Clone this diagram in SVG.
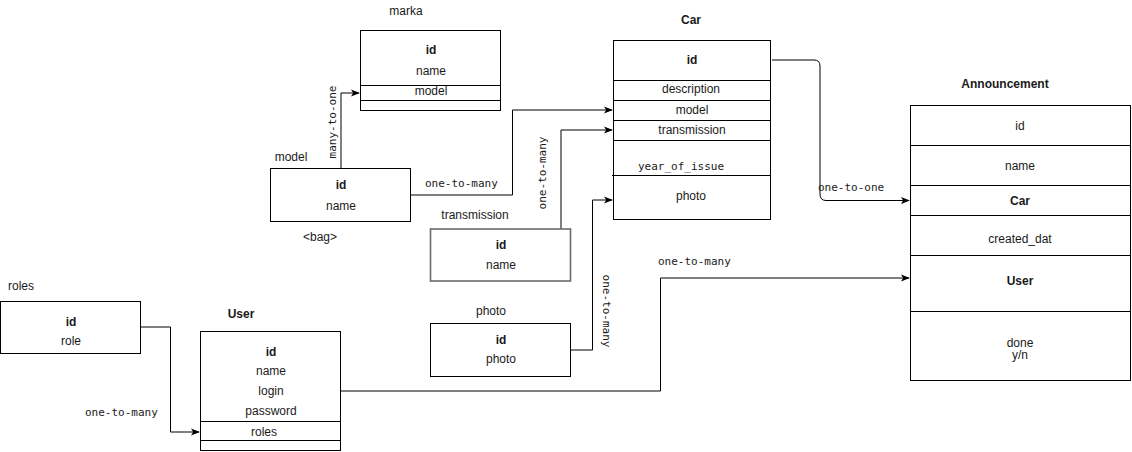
<svg xmlns="http://www.w3.org/2000/svg" width="1132" height="452" viewBox="0 0 1132 452">
  <style>
    .box { fill: #ffffff; stroke: #000000; stroke-width: 1; }
    .box-gray { fill: #ffffff; stroke: #6b6b6b; stroke-width: 1.6; }
    .row { stroke: #000000; stroke-width: 1; }
    .t { font-family: "Liberation Sans", Arial, sans-serif; font-size: 12px; fill: #1a1a1a; text-anchor: middle; }
    .b { font-weight: bold; }
    .lbl { font-family: "Liberation Sans", Arial, sans-serif; font-size: 12px; fill: #1a1a1a; }
    .mono { font-family: "DejaVu Sans Mono", "Liberation Mono", monospace; font-size: 11px; fill: #1a1a1a; }
    .edge { fill: none; stroke: #000000; stroke-width: 1; }
  </style>
  <defs>
    <marker id="arrow" viewBox="0 0 10 10" refX="9" refY="5" markerWidth="9" markerHeight="9" markerUnits="userSpaceOnUse" orient="auto">
      <path d="M0,1 L10,5 L0,9 L2.5,5 Z" fill="#000000"/>
    </marker>
  </defs>
  <rect width="1132" height="452" fill="#ffffff"/>

  <!-- connectors -->
  <g id="connectors">
    <!-- model -> marka -->
    <path class="edge" d="M341,168 V93 H359" marker-end="url(#arrow)"/>
    <text class="mono" transform="translate(336,122) rotate(-90)" text-anchor="middle">many-to-one</text>
    <!-- model -> Car.model -->
    <path class="edge" d="M410,195 H512.5 V110 H612" marker-end="url(#arrow)"/>
    <text class="mono" x="425" y="187">one-to-many</text>
    <!-- transmission -> Car.transmission -->
    <path class="edge" d="M561,229 V130 H612" marker-end="url(#arrow)"/>
    <text class="mono" transform="translate(546,173) rotate(-90)" text-anchor="middle">one-to-many</text>
    <!-- photo -> Car.photo -->
    <path class="edge" d="M571,350 H592.5 V200 H612" marker-end="url(#arrow)"/>
    <text class="mono" transform="translate(603,311) rotate(90)" text-anchor="middle">one-to-many</text>
    <!-- Car -> Announcement.Car -->
    <path class="edge" d="M772,60 H814 Q820,60 820,66 V194 Q820,200.5 826,200.5 H909" marker-end="url(#arrow)"/>
    <text class="mono" x="818" y="191">one-to-one</text>
    <!-- User -> Announcement.User -->
    <path class="edge" d="M341,391 H660.5 V278 H909" marker-end="url(#arrow)"/>
    <text class="mono" x="658" y="265">one-to-many</text>
    <!-- roles -> User.roles -->
    <path class="edge" d="M140,327 H170.5 V432 H199" marker-end="url(#arrow)"/>
    <text class="mono" x="85" y="416">one-to-many</text>
  </g>

  <!-- marka -->
  <g id="marka">
    <text class="t" x="406" y="15">marka</text>
    <rect class="box" x="360.5" y="30.5" width="140" height="80"/>
    <line class="row" x1="360.5" y1="85.5" x2="500.5" y2="85.5"/>
    <line class="row" x1="360.5" y1="100.5" x2="500.5" y2="100.5"/>
    <text class="t b" x="431" y="54">id</text>
    <text class="t" x="431" y="75">name</text>
    <text class="t" x="431" y="95">model</text>
  </g>

  <!-- model -->
  <g id="model">
    <text class="t" x="291" y="161">model</text>
    <rect class="box" x="270.5" y="168.5" width="140" height="53"/>
    <text class="t b" x="341" y="189">id</text>
    <text class="t" x="341" y="210">name</text>
    <text class="t" x="320" y="241">&lt;bag&gt;</text>
  </g>

  <!-- Car -->
  <g id="car">
    <text class="t b" x="691" y="24">Car</text>
    <rect class="box" x="613.5" y="40.5" width="157" height="179"/>
    <line class="row" x1="613.5" y1="80.5" x2="770.5" y2="80.5"/>
    <line class="row" x1="613.5" y1="100.5" x2="770.5" y2="100.5"/>
    <line class="row" x1="613.5" y1="120.5" x2="770.5" y2="120.5"/>
    <line class="row" x1="613.5" y1="140.5" x2="770.5" y2="140.5"/>
    <line class="row" x1="612" y1="175.5" x2="770.5" y2="175.5"/>
    <text class="t b" x="692" y="64">id</text>
    <text class="t" x="691" y="93">description</text>
    <text class="t" x="692" y="114">model</text>
    <text class="t" x="692" y="134">transmission</text>
    <text class="mono" x="681" y="170" text-anchor="middle">year_of_issue</text>
    <text class="t" x="691" y="200">photo</text>
  </g>

  <!-- transmission -->
  <g id="transmission">
    <text class="t" x="475" y="219">transmission</text>
    <rect class="box-gray" x="430.5" y="229" width="140" height="52"/>
    <text class="t b" x="501" y="249">id</text>
    <text class="t" x="501" y="269">name</text>
  </g>

  <!-- photo -->
  <g id="photo">
    <text class="t" x="491" y="315">photo</text>
    <rect class="box" x="430.5" y="323.5" width="140" height="53"/>
    <text class="t b" x="501" y="344">id</text>
    <text class="t" x="501" y="363">photo</text>
  </g>

  <!-- Announcement -->
  <g id="announcement">
    <text class="t b" x="1005" y="88">Announcement</text>
    <rect class="box" x="910.5" y="105.5" width="220" height="275"/>
    <line class="row" x1="910.5" y1="145.5" x2="1130.5" y2="145.5"/>
    <line class="row" x1="910.5" y1="185.5" x2="1130.5" y2="185.5"/>
    <line class="row" x1="910.5" y1="215.5" x2="1130.5" y2="215.5"/>
    <line class="row" x1="910.5" y1="255.5" x2="1130.5" y2="255.5"/>
    <line class="row" x1="910.5" y1="311.5" x2="1130.5" y2="311.5"/>
    <text class="t" x="1020" y="130">id</text>
    <text class="t" x="1020" y="170">name</text>
    <text class="t b" x="1020" y="205">Car</text>
    <text class="t" x="1020" y="243">created_dat</text>
    <text class="t b" x="1020" y="285">User</text>
    <text class="t" x="1020" y="347">done</text>
    <text class="t" x="1020" y="359">y/n</text>
  </g>

  <!-- roles -->
  <g id="roles">
    <text class="lbl" x="8" y="290">roles</text>
    <rect class="box" x="0.5" y="301.5" width="140" height="52"/>
    <text class="t b" x="71" y="326">id</text>
    <text class="t" x="71" y="345">role</text>
  </g>

  <!-- User -->
  <g id="user">
    <text class="t b" x="241" y="318">User</text>
    <rect class="box" x="200.5" y="331.5" width="140" height="119"/>
    <line class="row" x1="200.5" y1="421.5" x2="340.5" y2="421.5"/>
    <line class="row" x1="200.5" y1="440.5" x2="340.5" y2="440.5"/>
    <text class="t b" x="271" y="356">id</text>
    <text class="t" x="271" y="375">name</text>
    <text class="t" x="271" y="395">login</text>
    <text class="t" x="271" y="415">password</text>
    <text class="t" x="264" y="436">roles</text>
  </g>
</svg>
